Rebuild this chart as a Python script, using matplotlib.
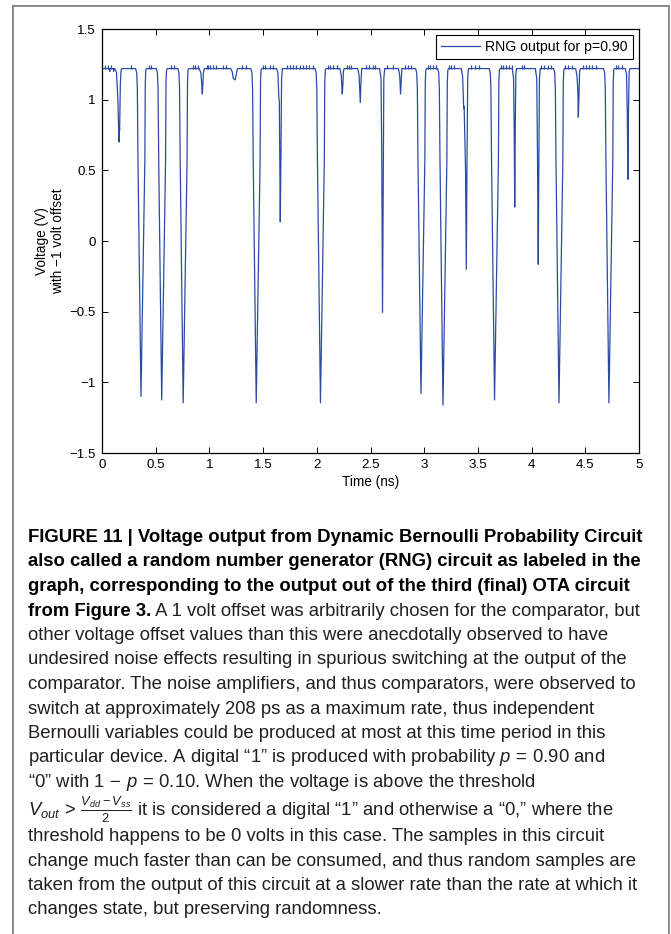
import matplotlib
matplotlib.use("Agg")
import matplotlib.pyplot as plt
from matplotlib.patches import Rectangle

plt.rcParams['font.family'] = ['Liberation Sans', 'DejaVu Sans']
plt.rcParams['mathtext.fontset'] = 'custom'
plt.rcParams['mathtext.rm'] = 'Liberation Sans'
plt.rcParams['mathtext.it'] = 'Liberation Sans:italic'
plt.rcParams['mathtext.bf'] = 'Liberation Sans:bold'

# RNG output trace (ns, V)
time_ns = [0.000, 0.068, 0.072, 0.076, 0.104, 0.108, 0.112,
           0.120, 0.135, 0.148, 0.158, 0.161, 0.164, 0.171, 0.178, 0.185,
           0.313, 0.323, 0.329, 0.335, 0.363, 0.399, 0.403, 0.408, 0.415,
           0.506, 0.516, 0.522, 0.528, 0.556, 0.592, 0.596, 0.601, 0.608,
           0.706, 0.716, 0.722, 0.728, 0.756, 0.792, 0.796, 0.801, 0.808,
           0.905, 0.920, 0.928, 0.934, 0.938, 0.944, 0.952,
           1.198, 1.212, 1.222, 1.240, 1.250, 1.262,
           1.386, 1.396, 1.402, 1.408, 1.436, 1.472, 1.476, 1.481, 1.488,
           1.625, 1.638, 1.646, 1.651, 1.660, 1.666, 1.672, 1.680,
           1.984, 1.994, 2.000, 2.006, 2.034, 2.070, 2.074, 2.079, 2.086,
           2.215, 2.228, 2.237, 2.241, 2.248, 2.255,
           2.380, 2.393, 2.405, 2.410, 2.418,
           2.585, 2.598, 2.605, 2.612, 2.618, 2.624, 2.632,
           2.760, 2.772, 2.780, 2.785, 2.792,
           2.920, 2.930, 2.936, 2.942, 2.970, 3.006, 3.010, 3.015, 3.022,
           3.125, 3.135, 3.141, 3.147, 3.175, 3.211, 3.215, 3.220, 3.227,
           3.345, 3.358, 3.368, 3.372, 3.385, 3.392, 3.398, 3.405, 3.412,
           3.605, 3.615, 3.621, 3.627, 3.655, 3.691, 3.695, 3.700, 3.707,
           3.820, 3.832, 3.838, 3.843, 3.848, 3.853, 3.860,
           4.035, 4.048, 4.055, 4.062, 4.067, 4.073, 4.080,
           4.205, 4.215, 4.221, 4.227, 4.255, 4.291, 4.295, 4.300, 4.307,
           4.410, 4.422, 4.430, 4.435, 4.440, 4.447, 4.455,
           4.670, 4.680, 4.686, 4.692, 4.720, 4.756, 4.760, 4.765, 4.772,
           4.872, 4.884, 4.891, 4.897, 4.902, 4.908, 4.915,
           5.000]
volts = [1.22, 1.22, 1.20, 1.22, 1.22, 1.20, 1.22,
         1.22, 1.19, 1.00, 0.70, 0.80, 0.78, 1.12, 1.21, 1.22,
         1.22, 1.19, 1.08, 0.57, -1.100, 0.57, 1.12, 1.21, 1.22,
         1.22, 1.19, 1.08, 0.57, -1.125, 0.57, 1.12, 1.21, 1.22,
         1.22, 1.19, 1.08, 0.57, -1.145, 0.57, 1.12, 1.21, 1.22,
         1.22, 1.19, 1.12, 1.04, 1.10, 1.19, 1.22,
         1.22, 1.20, 1.15, 1.14, 1.18, 1.22,
         1.22, 1.19, 1.08, 0.57, -1.145, 0.57, 1.12, 1.21, 1.22,
         1.22, 1.19, 1.02, 0.99, 0.135, 0.60, 1.15, 1.22,
         1.22, 1.19, 1.08, 0.57, -1.145, 0.57, 1.12, 1.21, 1.22,
         1.22, 1.17, 1.04, 1.08, 1.20, 1.22,
         1.22, 1.18, 0.98, 1.10, 1.22,
         1.22, 1.15, 0.60, -0.505, 0.40, 1.15, 1.22,
         1.22, 1.17, 1.04, 1.12, 1.22,
         1.22, 1.19, 1.08, 0.57, -1.080, 0.57, 1.12, 1.21, 1.22,
         1.22, 1.19, 1.08, 0.57, -1.162, 0.57, 1.12, 1.21, 1.22,
         1.22, 1.16, 0.936, 0.95, 0.50, -0.20, 0.50, 1.15, 1.22,
         1.22, 1.19, 1.08, 0.57, -1.125, 0.57, 1.12, 1.21, 1.22,
         1.22, 1.15, 0.80, 0.24, 0.80, 1.18, 1.22,
         1.22, 1.15, 0.60, -0.165, 0.50, 1.15, 1.22,
         1.22, 1.19, 1.08, 0.57, -1.145, 0.57, 1.12, 1.21, 1.22,
         1.22, 1.17, 1.08, 0.876, 1.00, 1.20, 1.22,
         1.22, 1.19, 1.08, 0.57, -1.145, 0.57, 1.12, 1.21, 1.22,
         1.22, 1.18, 0.90, 0.436, 0.90, 1.20, 1.22,
         1.22]
assert len(time_ns) == len(volts)

# small switching glitches sitting on top of the high level
glitch_t = [0.03, 0.056, 0.087, 0.27, 0.44, 0.46, 0.64, 0.675, 0.85, 0.865, 0.89,
            0.975, 0.99, 1.01, 1.03, 1.06, 1.13, 1.155, 1.30, 1.34, 1.50, 1.52,
            1.56, 1.59, 1.72, 1.75, 1.78, 1.81, 1.84, 1.87, 1.90, 1.93, 1.96,
            2.10, 2.12, 2.15, 2.19, 2.28, 2.30, 2.32, 2.46, 2.49, 2.52, 2.54,
            2.65, 2.71, 2.82, 2.85, 2.88, 3.035, 3.05, 3.08, 3.11, 3.235, 3.25,
            3.28, 3.44, 3.47, 3.51, 3.715, 3.73, 3.76, 3.79, 3.815, 3.91, 3.93,
            4.09, 4.12, 4.15, 4.18, 4.315, 4.34, 4.38, 4.48, 4.51, 4.53, 4.56,
            4.60, 4.785, 4.80, 4.84]
glitch_low = 1.22
glitch_high = 1.245

ytick_vals = [-1.5, -1, -0.5, 0, 0.5, 1, 1.5]
xtick_vals = [0, 0.5, 1, 1.5, 2, 2.5, 3, 3.5, 4, 4.5, 5]
legend_label = 'RNG output for p=0.90'

caption_bold = ["FIGURE 11 | Voltage output from Dynamic Bernoulli Probability Circuit",
                "also called a random number generator (RNG) circuit as labeled in the",
                "graph, corresponding to the output out of the third (final) OTA circuit",
                "from Figure 3."]
caption_rest = [" A 1 volt offset was arbitrarily chosen for the comparator, but",
                "other voltage offset values than this were anecdotally observed to have",
                "undesired noise effects resulting in spurious switching at the output of the",
                "comparator. The noise amplifiers, and thus comparators, were observed to",
                "switch at approximately 208 ps as a maximum rate, thus independent",
                "Bernoulli variables could be produced at most at this time period in this",
                "particular device. A digital \u201c1\u201d is produced with probability $p\\,=\\,0.90$ and",
                "\u201c0\u201d with $1\\,-\\,p\\,=\\,0.10$. When the voltage is above the threshold",
                r"$V_{out}\,>\,\frac{V_{dd}-V_{ss}}{2}$ it is considered a digital " + "\u201c1\u201d and otherwise a \u201c0,\u201d where the",
                "threshold happens to be 0 volts in this case. The samples in this circuit",
                "change much faster than can be consumed, and thus random samples are",
                "taken from the output of this circuit at a slower rate than the rate at which it",
                "changes state, but preserving randomness."]

W, H = 671, 934
fig = plt.figure(figsize=(W / 100, H / 100), dpi=100)

# gray frame around the whole figure panel
fig.add_artist(Rectangle((12.5 / W, -0.01), (669 - 12.5) / W, 1 - 6 / H + 0.01,
                         transform=fig.transFigure, fill=False,
                         edgecolor='#8a8a8a', linewidth=1.4, clip_on=False))

ax = fig.add_axes([102 / W, 1 - 453 / H, 537 / W, 424 / H])
line_col = '#2b4aa6'
ax.plot(time_ns, volts, color=line_col, linewidth=0.9, label=legend_label)
ax.vlines(glitch_t, glitch_low, glitch_high, color=line_col, linewidth=0.9)

ax.set_xlim(0, 5)
ax.set_ylim(-1.5, 1.5)
ax.set_xticks(xtick_vals)
ax.set_xticklabels(['{:g}'.format(v) for v in xtick_vals])
ax.set_yticks(ytick_vals)
ax.set_yticklabels(['{:g}'.format(v).replace('-', '\u2212') for v in ytick_vals])
ax.tick_params(direction='in', length=4, width=0.7, top=True, right=True,
               labelsize=9.6, pad=4.5, colors='black')
for s in ax.spines.values():
    s.set_linewidth(0.9)

leg = ax.legend(loc='upper right', fancybox=False, edgecolor='black', framealpha=1,
                fontsize=10.2, handlelength=2.8, handletextpad=0.35, borderpad=0.35,
                borderaxespad=0.45)
leg.get_frame().set_linewidth(0.8)

fig.text(50 / W, 1 - 241 / H, 'Voltage (V)\nwith \u22121 volt offset', rotation=90,
         ha='center', va='center', multialignment='center', fontsize=9.8,
         linespacing=1.1)
fig.text(370.5 / W, 1 - 482 / H, 'Time (ns)', ha='center', va='center', fontsize=9.8)

# caption, one text per printed line (the fraction line gets a bit more room)
cap_x = 28 / W
cap_size = 13.3
base0 = 542
step = 24.5
renderer = fig.canvas.get_renderer()
for i, s in enumerate(caption_bold):
    t = fig.text(cap_x, 1 - (base0 + i * step) / H, s, fontsize=cap_size,
                 fontweight='bold', color='black', va='baseline', ha='left')
bb = t.get_window_extent(renderer)
for j, s in enumerate(caption_rest):
    i = j + 3
    x = cap_x if j > 0 else bb.x1 / W
    extra = 5 if i >= 11 else 0
    fig.text(x, 1 - (base0 + i * step + extra) / H, s, fontsize=cap_size,
             color='#231f20', va='baseline', ha='left')

fig.savefig('out.png', dpi=100)
